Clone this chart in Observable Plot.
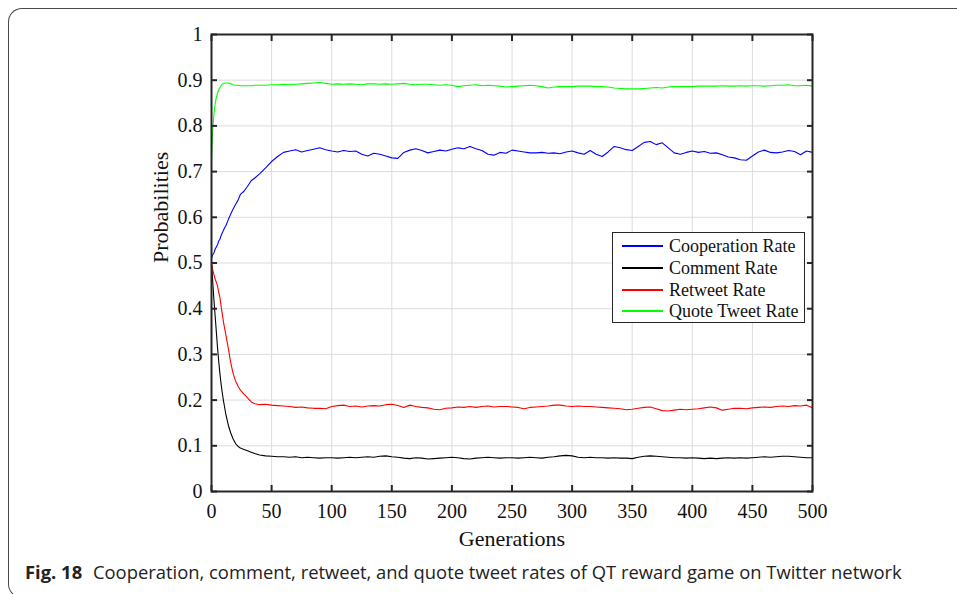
<!DOCTYPE html>
<html>
<head>
<meta charset="utf-8">
<script src="https://cdn.jsdelivr.net/npm/d3@7"></script>
<script src="https://cdn.jsdelivr.net/npm/@observablehq/plot@0.6"></script>
<style>
  html, body { margin: 0; padding: 0; background: #fff; }
  #wrap { position: relative; width: 957px; height: 594px; overflow: hidden; }
  #card { position: absolute; left: 8px; top: 8px; width: 1000px; height: 590px;
          border: 1.3px solid #4a4a4a; border-right: none; border-radius: 14px 0 0 14px; box-sizing: border-box; }
  #chart { position: absolute; left: 0; top: 0; }
  #legend { position: absolute; left: 612px; top: 232px; width: 193px; height: 91px; box-sizing: border-box;
            border: 1px solid #262626; background: #fff; font-family: "Liberation Serif", serif; font-size: 18px; color: #111; }
  #legend .row { position: absolute; left: 9px; height: 20px; display: flex; align-items: center; }
  #legend .sw { width: 41px; height: 0; border-top: 2px solid; margin-right: 6px; }
  #caption { position: absolute; left: 25px; top: 559px; font-family: "Open Sans", sans-serif; font-size: 18.4px; color: #222; white-space: nowrap; }
  #caption b { font-weight: 700; margin-right: 6px; }
</style>
</head>
<body>
<div id="wrap">
  <div id="card"></div>
  <div id="chart"></div>
  <div id="legend"></div>
  <div id="caption"><b>Fig. 18</b> Cooperation, comment, retweet, and quote tweet rates of QT reward game on Twitter network</div>
</div>
<script>
const generations = [0,1,2,3,4,5,6,7,8,9,10,12,14,16,18,20,22,24,27,30,33,36,40,
  45,50,55,60,65,70,75,80,85,90,95,100,105,110,115,120,125,130,135,140,145,150,155,160,165,170,175,180,185,190,195,200,
  205,210,215,220,225,230,235,240,245,250,255,260,265,270,275,280,285,290,295,300,305,310,315,320,325,330,335,340,345,350,
  355,360,365,370,375,380,385,390,395,400,405,410,415,420,425,430,435,440,445,450,455,460,465,470,475,480,485,490,495,500];

const cooperationRate = [0.510,0.518,0.522,0.530,0.535,0.540,0.548,0.552,0.560,0.566,0.572,0.582,0.595,0.607,0.618,0.628,0.637,0.650,0.657,0.668,0.680,0.686,0.695,
  0.708,0.722,0.733,0.742,0.745,0.748,0.743,0.746,0.749,0.752,0.748,0.745,0.743,0.746,0.744,0.745,0.738,0.734,0.740,0.738,0.734,0.730,0.729,0.742,0.747,0.750,0.746,0.741,0.744,0.747,0.745,0.749,
  0.752,0.750,0.755,0.750,0.746,0.738,0.736,0.742,0.740,0.747,0.745,0.743,0.741,0.741,0.742,0.740,0.741,0.739,0.743,0.745,0.741,0.738,0.746,0.738,0.733,0.743,0.755,0.752,0.748,0.746,
  0.755,0.764,0.766,0.759,0.763,0.752,0.741,0.738,0.742,0.745,0.742,0.744,0.740,0.741,0.737,0.732,0.730,0.726,0.725,0.734,0.743,0.747,0.742,0.741,0.743,0.746,0.744,0.737,0.745,0.742];

const commentRate = [0.500,0.460,0.420,0.385,0.350,0.315,0.285,0.258,0.235,0.215,0.198,0.168,0.145,0.128,0.115,0.105,0.099,0.095,0.092,0.089,0.086,0.083,0.080,
  0.078,0.077,0.076,0.076,0.075,0.076,0.074,0.075,0.074,0.073,0.074,0.074,0.073,0.074,0.075,0.074,0.075,0.076,0.075,0.077,0.078,0.076,0.075,0.073,0.072,0.074,0.073,0.071,0.072,0.073,0.074,0.075,
  0.074,0.072,0.071,0.073,0.074,0.075,0.074,0.073,0.074,0.074,0.073,0.074,0.075,0.074,0.073,0.075,0.076,0.078,0.079,0.078,0.075,0.074,0.075,0.074,0.074,0.073,0.074,0.073,0.073,0.072,
  0.075,0.077,0.078,0.077,0.076,0.075,0.074,0.074,0.073,0.074,0.073,0.072,0.073,0.072,0.073,0.074,0.073,0.074,0.073,0.074,0.075,0.076,0.075,0.076,0.077,0.077,0.076,0.075,0.074,0.074];

const retweetRate = [0.500,0.485,0.475,0.465,0.458,0.450,0.436,0.425,0.405,0.388,0.370,0.342,0.313,0.282,0.258,0.242,0.231,0.222,0.213,0.205,0.196,0.192,0.190,
  0.191,0.189,0.188,0.187,0.186,0.184,0.185,0.183,0.182,0.182,0.181,0.186,0.188,0.189,0.186,0.187,0.185,0.187,0.188,0.187,0.190,0.191,0.188,0.184,0.189,0.186,0.184,0.183,0.180,0.179,0.182,0.183,
  0.185,0.184,0.186,0.184,0.186,0.187,0.185,0.186,0.186,0.185,0.184,0.181,0.184,0.185,0.186,0.187,0.189,0.189,0.187,0.186,0.187,0.186,0.186,0.185,0.184,0.183,0.182,0.181,0.179,0.180,
  0.182,0.184,0.185,0.181,0.177,0.176,0.178,0.180,0.179,0.180,0.181,0.183,0.185,0.183,0.178,0.180,0.182,0.182,0.181,0.183,0.184,0.185,0.184,0.186,0.187,0.186,0.188,0.187,0.189,0.183];

const quoteTweetRate = [0.730,0.790,0.825,0.848,0.862,0.872,0.879,0.884,0.888,0.891,0.893,0.894,0.894,0.892,0.890,0.889,0.889,0.888,0.888,0.888,0.888,0.889,0.889,
  0.889,0.890,0.890,0.891,0.890,0.891,0.892,0.893,0.894,0.895,0.893,0.891,0.892,0.891,0.892,0.891,0.890,0.892,0.892,0.891,0.892,0.891,0.892,0.893,0.891,0.890,0.891,0.891,0.890,0.889,0.890,0.889,
  0.886,0.888,0.889,0.890,0.888,0.889,0.888,0.887,0.885,0.886,0.887,0.888,0.889,0.888,0.886,0.883,0.885,0.886,0.886,0.886,0.887,0.887,0.887,0.886,0.886,0.885,0.883,0.882,0.881,0.881,
  0.881,0.882,0.883,0.884,0.883,0.885,0.886,0.886,0.886,0.886,0.887,0.887,0.887,0.887,0.888,0.887,0.887,0.888,0.887,0.888,0.888,0.887,0.888,0.889,0.889,0.890,0.888,0.888,0.889,0.887];

const seriesNames = ["Cooperation Rate", "Comment Rate", "Retweet Rate", "Quote Tweet Rate"];
const seriesColors = ["#0000ff", "#000000", "#ff0000", "#00ff00"];
const seriesValues = [cooperationRate, commentRate, retweetRate, quoteTweetRate];

const xTicks = [0,50,100,150,200,250,300,350,400,450,500];
const yTicks = [0,0.1,0.2,0.3,0.4,0.5,0.6,0.7,0.8,0.9,1];
const xLabel = "Generations";
const yLabel = "Probabilities";

const data = [];
seriesNames.forEach((name, s) => {
  const vals = seriesValues[s];
  const n = Math.min(vals.length, generations.length);
  for (let i = 0; i < n; i++) data.push({series: name, gen: generations[i], value: vals[i]});
});

const fmtY = d => d === 0 ? "0" : d === 1 ? "1" : d3.format(".1f")(d);

const chart = Plot.plot({
  width: 957,
  height: 594,
  marginLeft: 211,
  marginRight: 145,
  marginTop: 34,
  marginBottom: 103,
  style: {fontFamily: "Liberation Serif, serif", fontSize: "20px", color: "#262626", background: "transparent", overflow: "visible"},
  x: {domain: [0, 500]},
  y: {domain: [0, 1]},
  color: {domain: seriesNames, range: seriesColors},
  marks: [
    Plot.gridX(xTicks, {stroke: "#dcdcdc", strokeOpacity: 1, strokeWidth: 1}),
    Plot.gridY(yTicks, {stroke: "#dcdcdc", strokeOpacity: 1, strokeWidth: 1}),
    Plot.line(data, {x: "gen", y: "value", z: "series", stroke: "series", strokeWidth: 1.1}),
    Plot.frame({stroke: "#262626", strokeWidth: 2}),
    Plot.axisX(xTicks, {anchor: "bottom", tickSize: -6, tickPadding: 18, tickFormat: d => String(d), label: null, stroke: "#262626", strokeWidth: 2, fill: "#111"}),
    Plot.axisX(xTicks, {anchor: "top", tickSize: -6, tickFormat: () => "", label: null, stroke: "#262626", strokeWidth: 2}),
    Plot.axisY(yTicks, {anchor: "left", tickSize: -6, tickPadding: 15, tickFormat: fmtY, label: null, stroke: "#262626", strokeWidth: 2, fill: "#111"}),
    Plot.axisY(yTicks, {anchor: "right", tickSize: -6, tickFormat: () => "", label: null, stroke: "#262626", strokeWidth: 2}),
    Plot.text([xLabel], {frameAnchor: "bottom", dy: 47, text: d => d, fontSize: 22, fill: "#111", lineAnchor: "middle"}),
    Plot.text([yLabel], {frameAnchor: "left", dx: -51, rotate: -90, text: d => d, fontSize: 22, fill: "#111", lineAnchor: "middle"})
  ]
});
document.getElementById("chart").appendChild(chart);

const legend = document.getElementById("legend");
const rowCenters = [13, 35, 57, 78];
seriesNames.forEach((name, i) => {
  const row = document.createElement("div");
  row.className = "row";
  row.style.top = (rowCenters[i] - 10) + "px";
  row.innerHTML = `<span class="sw" style="border-color:${seriesColors[i]}"></span><span>${name}</span>`;
  legend.appendChild(row);
});
</script>
</body>
</html>
